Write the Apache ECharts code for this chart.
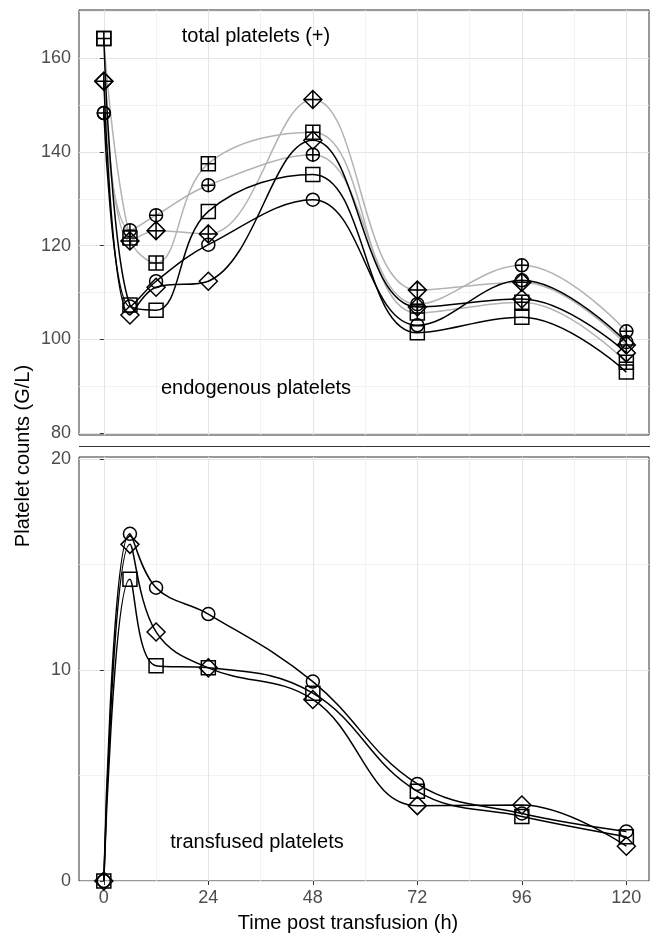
<!DOCTYPE html>
<html>
<head>
<meta charset="utf-8">
<script src="https://cdn.jsdelivr.net/npm/echarts@6/dist/echarts.min.js"></script>
<style>
  html, body { margin: 0; padding: 0; background: #fff; }
  #chart { width: 650px; height: 938px; }
</style>
</head>
<body>
<div id="chart"></div>
<script>
// sampling times (h)
var times = [0, 6, 12, 24, 48, 72, 96, 120];

// total platelets (grey lines, markers with +)
var totalSquare  = [164.2, 121.6, 116.3, 137.5, 144.2, 105.6, 107.9, 95.1];
var totalCircle  = [148.3, 123.3, 126.5, 132.9, 139.4, 107.5, 115.8, 101.7];
var totalDiamond = [155.1, 121.0, 123.2, 122.5, 151.2, 110.5, 112.2, 98.8];

// endogenous platelets (black lines)
var endoSquare  = [164.2, 107.3, 106.2, 127.3, 135.2, 101.4, 104.7, 93.0];
var endoCircle  = [148.3, 107.0, 112.4, 120.2, 129.8, 103.0, 112.6, 99.4];
var endoDiamond = [155.1, 105.2, 111.1, 112.4, 142.5, 106.9, 108.6, 97.1];

// transfused platelets (lower panel)
var transSquare  = [0, 14.3, 10.2, 10.1, 8.9, 4.25, 3.06, 2.1];
var transCircle  = [0, 16.45, 13.9, 12.65, 9.45, 4.6, 3.2, 2.35];
var transDiamond = [0, 15.95, 11.8, 10.1, 8.6, 3.57, 3.6, 1.65];

// axis breaks
var xMajor = [0, 24, 48, 72, 96, 120];
var xMinor = [12, 36, 60, 84, 108];
var yTopMajor = [80, 100, 120, 140, 160];
var yTopMinor = [90, 110, 130, 150, 170];
var yBotMajor = [0, 10, 20];
var yBotMinor = [5, 15];

var FONT = 'Liberation Sans, Arial, sans-serif';
var PLUS = 'M5,0L5,10M0,5L10,5';
var shapes = {
    square: 'path://M0,0L10,0L10,10L0,10Z',
    circle: 'path://M0,5A5,5,0,1,1,10,5A5,5,0,1,1,0,5Z',
    diamond: 'path://M5,0L10,5L5,10L0,5Z'
};
var sizes = { square: 14, circle: 13, diamond: 18 };

function pairs(arr) {
    return times.map(function (t, i) { return [t, arr[i]]; });
}

function makeSeries(name, arr, shape, plus, lineColor, gridIdx) {
    return {
        name: name,
        type: 'line',
        xAxisIndex: gridIdx === 0 ? 0 : 2,
        yAxisIndex: gridIdx === 0 ? 0 : 2,
        data: pairs(arr),
        smooth: 0.4,
        symbol: shapes[shape] + (plus ? PLUS : ''),
        symbolSize: sizes[shape],
        showSymbol: true,
        clip: true,
        lineStyle: { color: lineColor, width: 1.5 },
        itemStyle: { color: 'rgba(0,0,0,0)', borderColor: '#000', borderWidth: 1.5 },
        emphasis: { disabled: true },
        z: lineColor === '#000' ? 3 : 2
    };
}

function gridAxis(type, gridIdx, min, max, ticks, major, withLabels) {
    return {
        type: 'value',
        gridIndex: gridIdx,
        min: min,
        max: max,
        position: type === 'x' ? 'bottom' : 'left',
        axisLine: { show: false },
        axisTick: { show: withLabels, customValues: ticks, length: 4, lineStyle: { color: '#333' } },
        axisLabel: {
            show: withLabels,
            customValues: ticks,
            margin: 8,
            color: '#4d4d4d',
            fontSize: 18,
            fontFamily: FONT
        },
        splitLine: { show: true, lineStyle: { color: major ? '#e5e5e5' : '#efefef', width: major ? 1.1 : 0.8 } }
    };
}

var chart = echarts.init(document.getElementById('chart'), null, { renderer: 'canvas' });

var textStyle = { font: '20px ' + FONT, fill: '#000', align: 'center', verticalAlign: 'middle' };
function label(txt, x, y, rot) {
    return {
        type: 'text', x: x, y: y, rotation: rot || 0, z: 100,
        style: Object.assign({ text: txt }, textStyle)
    };
}

var option = {
    animation: false,
    backgroundColor: '#fff',
    grid: [
        { left: 79, top: 10, width: 570, height: 425, show: true, borderColor: '#333', borderWidth: 1, backgroundColor: 'rgba(0,0,0,0)' },
        { left: 79, top: 457, width: 570, height: 424, show: true, borderColor: '#333', borderWidth: 1, backgroundColor: 'rgba(0,0,0,0)' }
    ],
    xAxis: [
        gridAxis('x', 0, -5.7, 125.2, xMajor, true, false),
        gridAxis('x', 0, -5.7, 125.2, xMinor, false, false),
        gridAxis('x', 1, -5.7, 125.2, xMajor, true, true),
        gridAxis('x', 1, -5.7, 125.2, xMinor, false, false)
    ],
    yAxis: [
        gridAxis('y', 0, 79.57, 170.3, yTopMajor, true, true),
        gridAxis('y', 0, 79.57, 170.3, yTopMinor, false, false),
        gridAxis('y', 1, 0, 20.09, yBotMajor, true, true),
        gridAxis('y', 1, 0, 20.09, yBotMinor, false, false)
    ],
    series: [
        makeSeries('total square', totalSquare, 'square', true, '#b3b3b3', 0),
        makeSeries('total circle', totalCircle, 'circle', true, '#b3b3b3', 0),
        makeSeries('total diamond', totalDiamond, 'diamond', true, '#b3b3b3', 0),
        makeSeries('endogenous square', endoSquare, 'square', false, '#000', 0),
        makeSeries('endogenous circle', endoCircle, 'circle', false, '#000', 0),
        makeSeries('endogenous diamond', endoDiamond, 'diamond', false, '#000', 0),
        makeSeries('transfused square', transSquare, 'square', false, '#000', 1),
        makeSeries('transfused circle', transCircle, 'circle', false, '#000', 1),
        makeSeries('transfused diamond', transDiamond, 'diamond', false, '#000', 1)
    ],
    graphic: [
        { type: 'line', shape: { x1: 79, y1: 446.5, x2: 650, y2: 446.5 }, style: { stroke: '#333', lineWidth: 1 }, z: 10 },
        label('total platelets (+)', 256, 36),
        label('endogenous platelets', 256, 388),
        label('transfused platelets', 257, 842),
        label('Time post transfusion (h)', 348, 923),
        label('Platelet counts (G/L)', 23, 456, Math.PI / 2)
    ]
};

chart.setOption(option);
</script>
</body>
</html>
